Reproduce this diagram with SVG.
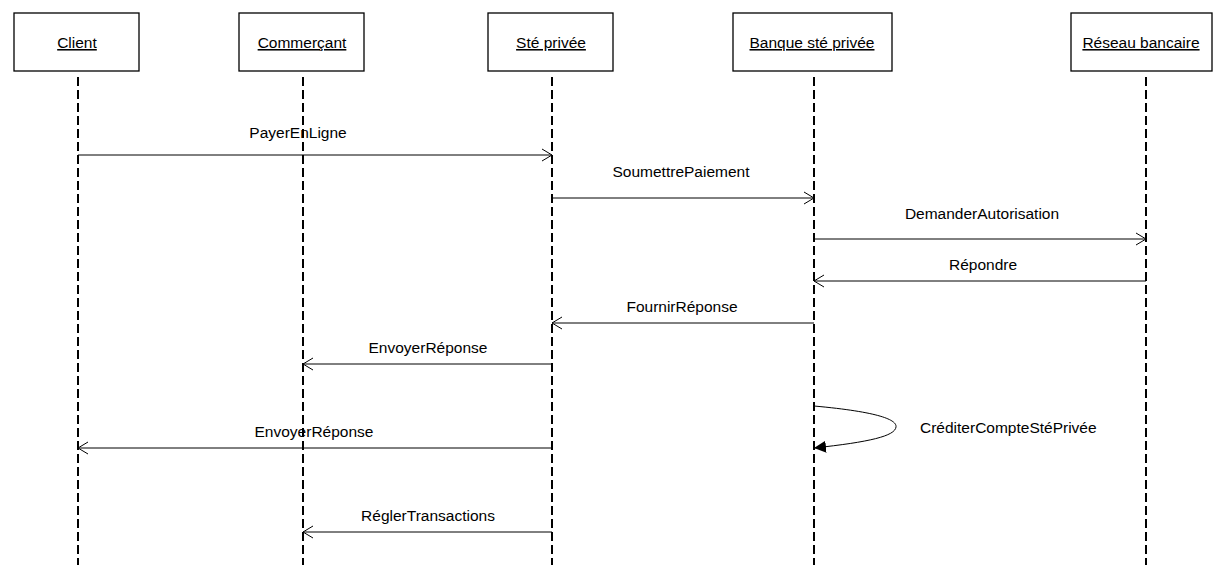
<svg xmlns="http://www.w3.org/2000/svg" width="1213" height="565" viewBox="0 0 1213 565">
<style>
.box{fill:#fff;stroke:#000;stroke-width:1.3}
.hd{font-family:"Liberation Sans",Arial,sans-serif;font-size:15.5px;fill:#000;text-anchor:middle;text-decoration:underline}
.life{stroke:#000;stroke-width:2;stroke-dasharray:9 4;fill:none}
.msg{stroke:#000;stroke-width:1;fill:none}
.lbl{font-family:"Liberation Sans",Arial,sans-serif;font-size:15.5px;fill:#000;text-anchor:middle}
</style>
<defs>
<marker id="open" markerWidth="12" markerHeight="14" refX="11" refY="7" orient="auto" markerUnits="userSpaceOnUse">
<path d="M1,1 L11,7 L1,13" fill="none" stroke="#000" stroke-width="1"/>
</marker>
<marker id="filled" markerWidth="14" markerHeight="12" refX="12" refY="6" orient="auto" markerUnits="userSpaceOnUse">
<path d="M0,0 L12,6 L0,12 Z" fill="#000"/>
</marker>
</defs>
<rect width="1213" height="565" fill="#fff"/>
<g id="client">
<line class="life" x1="78" y1="77" x2="78" y2="565"/>
<rect class="box" x="14" y="13" width="125" height="58"/>
<text class="hd" x="77" y="48">Client</text>
</g>
<g id="commercant">
<line class="life" x1="303" y1="77" x2="303" y2="565"/>
<rect class="box" x="239" y="13" width="125" height="58"/>
<text class="hd" x="302" y="48">Commerçant</text>
</g>
<g id="ste-privee">
<line class="life" x1="552" y1="77" x2="552" y2="565"/>
<rect class="box" x="488" y="13" width="125" height="58"/>
<text class="hd" x="551" y="48">Sté privée</text>
</g>
<g id="banque">
<line class="life" x1="814" y1="77" x2="814" y2="565"/>
<rect class="box" x="733" y="13" width="159" height="58"/>
<text class="hd" x="812" y="48">Banque sté privée</text>
</g>
<g id="reseau">
<line class="life" x1="1146" y1="77" x2="1146" y2="565"/>
<rect class="box" x="1071" y="13" width="141" height="58"/>
<text class="hd" x="1141" y="48">Réseau bancaire</text>
</g>
<g id="connectors">
<line class="msg" x1="78" y1="155" x2="552" y2="155" marker-end="url(#open)"/>
<text class="lbl" x="298" y="138">PayerEnLigne</text>
<line class="msg" x1="552" y1="198" x2="814" y2="198" marker-end="url(#open)"/>
<text class="lbl" x="681" y="177">SoumettrePaiement</text>
<line class="msg" x1="814" y1="239" x2="1146" y2="239" marker-end="url(#open)"/>
<text class="lbl" x="982" y="219">DemanderAutorisation</text>
<line class="msg" x1="1146" y1="281" x2="814" y2="281" marker-end="url(#open)"/>
<text class="lbl" x="983" y="270">Répondre</text>
<line class="msg" x1="814" y1="323" x2="552" y2="323" marker-end="url(#open)"/>
<text class="lbl" x="682" y="312">FournirRéponse</text>
<line class="msg" x1="552" y1="364" x2="303" y2="364" marker-end="url(#open)"/>
<text class="lbl" x="428" y="353">EnvoyerRéponse</text>
<path class="msg" d="M814,406 C880,412 897,420 896,427 C895,436 870,442 814,448" marker-end="url(#filled)"/>
<text class="lbl" x="920" y="433" style="text-anchor:start">CréditerCompteStéPrivée</text>
<line class="msg" x1="552" y1="448" x2="78" y2="448" marker-end="url(#open)"/>
<text class="lbl" x="314" y="437">EnvoyerRéponse</text>
<line class="msg" x1="552" y1="532" x2="303" y2="532" marker-end="url(#open)"/>
<text class="lbl" x="428" y="521">RéglerTransactions</text>
</g>
</svg>
